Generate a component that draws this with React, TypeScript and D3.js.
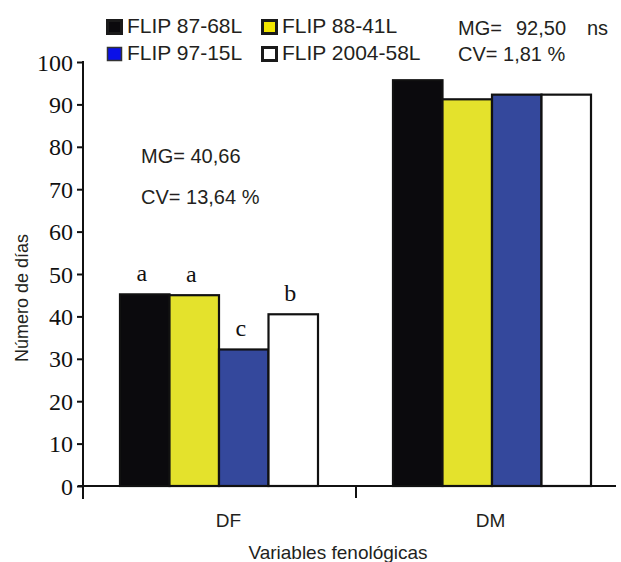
import { useEffect, useRef } from "react";
import * as d3 from "d3";

const categories = ["DF", "DM"];
const series = ["FLIP 87-68L", "FLIP 88-41L", "FLIP 97-15L", "FLIP 2004-58L"];
const dfValues = [45.2, 45.0, 32.2, 40.5];
const dmValues = [95.7, 91.2, 92.3, 92.3];
const dfLetters = ["a", "a", "c", "b"];
const yTicks = [0, 10, 20, 30, 40, 50, 60, 70, 80, 90, 100];

const barColors = ["#0b0a0d", "#e4e22c", "#34489c", "#ffffff"];
const legendColors = ["#0b0a0d", "#f2e600", "#0a10e8", "#ffffff"];

const sans = "'Liberation Sans', Arial, sans-serif";
const serif = "'Liberation Serif', 'Times New Roman', serif";
const ink = "#231f20";

export default function App() {
  const gRef = useRef<SVGGElement>(null);

  const width = 621;
  const height = 562;

  const x0 = d3.scaleBand().domain(categories).range([83, 629]);
  const x1 = d3.scaleBand().domain(series).range([37, 235]);
  const y = d3.scaleLinear().domain([0, 100]).range([486, 62]);

  const rows = [dfValues, dmValues].map((vals, ci) =>
    vals.map((v, si) => ({ cat: categories[ci], name: series[si], value: v, si }))
  );

  useEffect(() => {
    const svg = d3.select(gRef.current);

    // bars
    svg.append("g")
      .selectAll("g")
      .data(rows)
      .join("g")
        .attr("transform", (d) => `translate(${x0(d[0].cat)},0)`)
      .selectAll("rect")
      .data((d) => d)
      .join("rect")
        .attr("x", (d) => x1(d.name)!)
        .attr("y", (d) => y(d.value))
        .attr("width", x1.bandwidth())
        .attr("height", (d) => y(0) - y(d.value))
        .attr("fill", (d) => barColors[d.si])
        .attr("stroke", "#111")
        .attr("stroke-width", 2.2);

    // significance letters
    svg.append("g")
      .selectAll("text")
      .data(rows[0])
      .join("text")
        .attr("x", (d) => x0(d.cat)! + x1(d.name)! + x1.bandwidth() / 2 - 3)
        .attr("y", (d) => y(d.value) - 13)
        .attr("text-anchor", "middle")
        .style("font-family", serif)
        .style("font-size", "24px")
        .attr("fill", "#111")
        .text((d, i) => dfLetters[i]);

    // y axis
    const yAxis = svg.append("g")
      .attr("transform", "translate(83,0)")
      .call(d3.axisLeft(y).tickValues(yTicks).tickSize(6).tickPadding(4).tickSizeOuter(0));
    yAxis.select(".domain").remove();
    yAxis.selectAll(".tick line").attr("stroke", "#111").attr("stroke-width", 2);
    yAxis.selectAll(".tick text")
      .style("font-family", serif)
      .style("font-size", "24px")
      .attr("fill", "#111")
      .attr("dy", "0.34em");
    svg.append("line")
      .attr("x1", 83).attr("x2", 83)
      .attr("y1", 61).attr("y2", 499)
      .attr("stroke", "#111").attr("stroke-width", 2);

    // x axis
    svg.append("line")
      .attr("x1", 78).attr("x2", 616)
      .attr("y1", y(0)).attr("y2", y(0))
      .attr("stroke", "#111").attr("stroke-width", 2.2);
    svg.append("line")
      .attr("x1", x0("DM")!).attr("x2", x0("DM")!)
      .attr("y1", y(0)).attr("y2", y(0) + 12)
      .attr("stroke", "#111").attr("stroke-width", 2);
    svg.append("g")
      .selectAll("text")
      .data(categories)
      .join("text")
        .attr("x", (d) => x0(d)! + x0.bandwidth() / 2 + (d === "DF" ? 9 : -2))
        .attr("y", 527)
        .attr("text-anchor", "middle")
        .style("font-family", sans)
        .style("font-size", "19px")
        .attr("fill", ink)
        .text((d) => d);

    svg.append("text")
      .attr("x", 338).attr("y", 559)
      .attr("text-anchor", "middle")
      .style("font-family", sans).style("font-size", "19px")
      .attr("fill", ink)
      .text("Variables fenológicas");

    svg.append("text")
      .attr("transform", "translate(28,298) rotate(-90)")
      .attr("text-anchor", "middle")
      .style("font-family", sans).style("font-size", "18px")
      .attr("fill", ink)
      .text("Número de días");

    // legend
    const legend = svg.append("g")
      .selectAll("g")
      .data(series)
      .join("g")
        .attr("transform", (d, i) => `translate(${i % 2 === 0 ? 106 : 261},${i < 2 ? 19 : 46})`);
    legend.append("rect")
      .attr("x", 1.5).attr("y", 1.5)
      .attr("width", 14).attr("height", 13)
      .attr("fill", (d, i) => legendColors[i])
      .attr("stroke", (d, i) => (i === 2 ? "#333" : "#1a1a1a"))
      .attr("stroke-width", (d, i) => (i === 2 ? 1.5 : 3));
    legend.append("text")
      .attr("x", 21).attr("y", 14)
      .style("font-family", sans).style("font-size", "21px")
      .attr("fill", ink)
      .text((d) => d);

    // stats annotations
    const notes = [
      { t: "MG= 40,66", x: 141, y: 163 },
      { t: "CV= 13,64 %", x: 141, y: 204 },
      { t: "MG=", x: 458, y: 35 },
      { t: "92,50", x: 516, y: 35 },
      { t: "ns", x: 587, y: 35 },
      { t: "CV= 1,81 %", x: 458, y: 61 },
    ];
    svg.append("g")
      .selectAll("text")
      .data(notes)
      .join("text")
        .attr("x", (d) => d.x)
        .attr("y", (d) => d.y)
        .style("font-family", sans)
        .style("font-size", "20px")
        .attr("fill", ink)
        .text((d) => d.t);

    return () => { svg.selectAll("*").remove(); };
  }, []);

  return (
    <svg width={width} height={height} style={{ display: "block", position: "absolute", left: 0, top: 0, background: "#fff" }}>
      <g ref={gRef}></g>
    </svg>
  );
}
